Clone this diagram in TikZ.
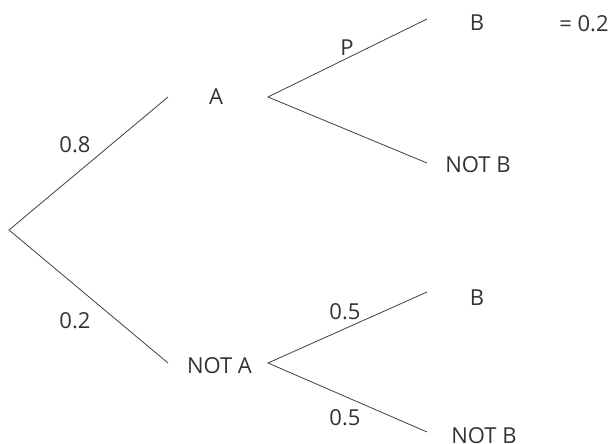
\documentclass[tikz,border=0pt]{standalone}
\usepackage{fontspec}
\setmainfont{Open Sans}
\begin{document}
\begin{tikzpicture}[x=1pt,y=-1pt,
  branch/.style={draw=black!75, line width=0.8pt},
  lbl/.style={inner sep=0pt, anchor=center, text=black!80, font=\fontsize{22}{24}\selectfont}]
\useasboundingbox (0,0) rectangle (614,444);
% branch points
\coordinate (root) at (9,230);
\coordinate (aIn) at (168,97);
\coordinate (aOut) at (268,97);
\coordinate (naIn) at (168,363);
\coordinate (naOut) at (268,363);
\coordinate (abEnd) at (427,19);
\coordinate (anbEnd) at (427,163);
\coordinate (nabEnd) at (427,292);
\coordinate (nanbEnd) at (427,432);
% first stage
\draw[branch] (aIn) -- (root) -- (naIn);
% second stage
\draw[branch] (abEnd) -- (aOut) -- (anbEnd);
\draw[branch] (nabEnd) -- (naOut) -- (nanbEnd);
% outcome labels
\node[lbl] (a) at (216,97) {A};
\node[lbl] (na) at (219.5,366) {NOT A};
\node[lbl] (ab) at (477,23) {B};
\node[lbl] (abp) at (584,24) {= 0.2};
\node[lbl] (anb) at (478,165) {NOT B};
\node[lbl] (nab) at (477,298) {B};
\node[lbl] (nanb) at (484,436) {NOT B};
% probabilities
\node[lbl] (p08) at (75,145) {0.8};
\node[lbl] (p02) at (75,321) {0.2};
\node[lbl] (pp) at (347,48) {P};
\node[lbl] (p05a) at (345,312) {0.5};
\node[lbl] (p05b) at (345,418) {0.5};
\end{tikzpicture}
\end{document}
